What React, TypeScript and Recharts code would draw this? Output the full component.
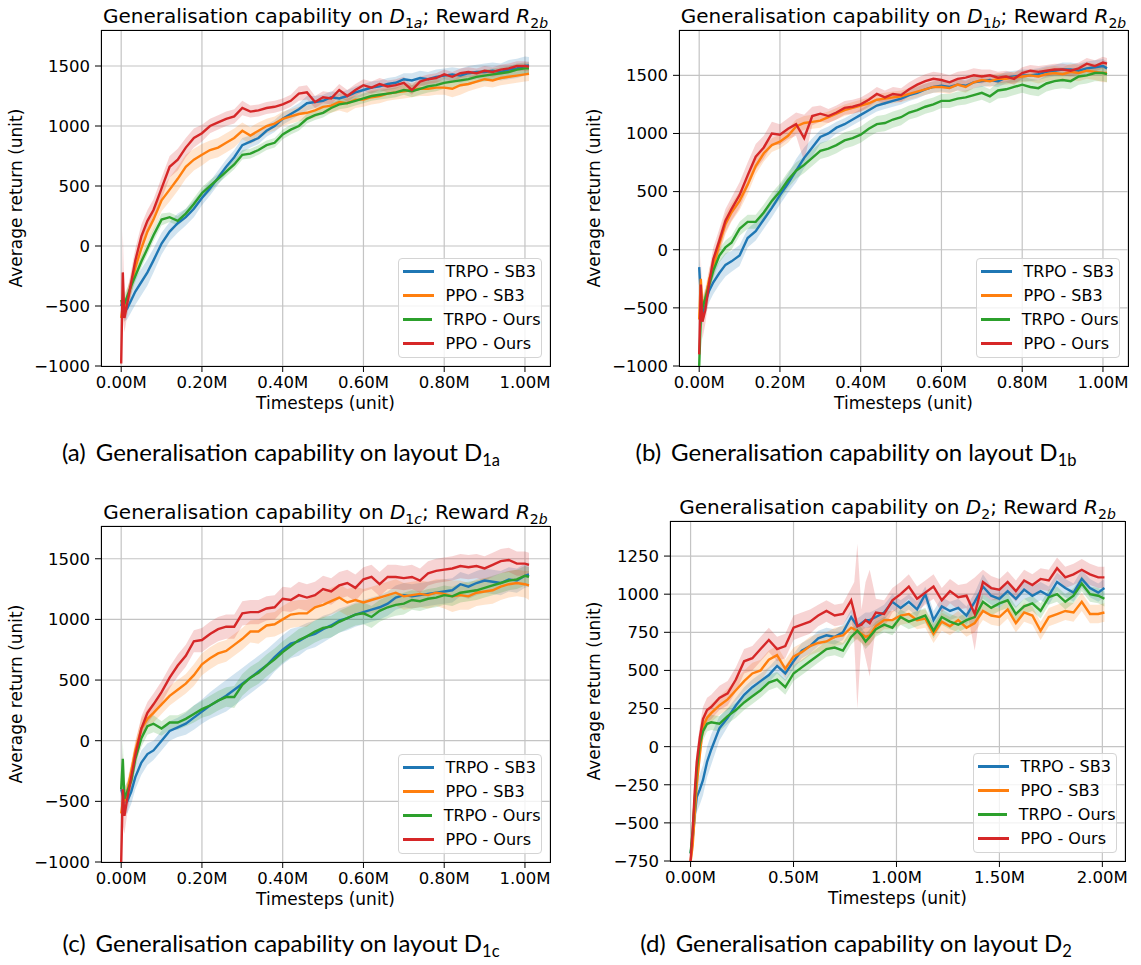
import React from "react";
import { ComposedChart, Line, Area, XAxis, YAxis, CartesianGrid } from "recharts";

const FONT = "'DejaVu Sans', sans-serif";
const CAPTION_FONT = "Lato, 'Open Sans', sans-serif";

const SERIES_NAMES = ["TRPO - SB3", "PPO - SB3", "TRPO - Ours", "PPO - Ours"];
const SERIES_COLORS = ["#1f77b4", "#ff7f0e", "#2ca02c", "#d62728"];

// timesteps (millions) for the 1M-step runs
const STEPS_1M = [
  0, 0.004, 0.008, 0.015, 0.025, 0.035, 0.05, 0.065, 0.08, 0.1,
  0.12, 0.14, 0.16, 0.18, 0.2, 0.22, 0.24, 0.26, 0.28, 0.3,
  0.32, 0.34, 0.36, 0.38, 0.4, 0.42, 0.44, 0.46, 0.48, 0.5,
  0.52, 0.54, 0.56, 0.58, 0.6, 0.62, 0.64, 0.66, 0.68, 0.7,
  0.72, 0.74, 0.76, 0.78, 0.8, 0.82, 0.84, 0.86, 0.88, 0.9,
  0.92, 0.94, 0.96, 0.98, 1.0, 1.01,
];

// timesteps (millions) for the 2M-step run
const STEPS_2M = [
  0, 0.01, 0.02, 0.03, 0.045, 0.06, 0.08, 0.1, 0.14, 0.18,
  0.22, 0.26, 0.3, 0.34, 0.38, 0.42, 0.46, 0.5, 0.54, 0.58,
  0.62, 0.66, 0.7, 0.74, 0.78, 0.795, 0.81, 0.83, 0.85, 0.87,
  0.9, 0.94, 0.98, 1.02, 1.06, 1.1, 1.14, 1.18, 1.22, 1.26,
  1.3, 1.34, 1.38, 1.42, 1.46, 1.5, 1.54, 1.58, 1.62, 1.66,
  1.7, 1.74, 1.78, 1.82, 1.86, 1.9, 1.94, 1.98, 2.01,
];

const X_TICKS_1M = [0, 0.2, 0.4, 0.6, 0.8, 1.0];
const X_TICKS_2M = [0, 0.5, 1.0, 1.5, 2.0];
const Y_TICKS_D1 = [-1000, -500, 0, 500, 1000, 1500];
const Y_TICKS_D2 = [-750, -500, -250, 0, 250, 500, 750, 1000, 1250];

// ---- (a) D1a ----
const A_TRPO_SB3 = [
  -500, -450, -550, -520, -450, -380, -300, -220, -120, 20,
  120, 190, 240, 310, 400, 480, 570, 660, 740, 840,
  870, 900, 960, 1000, 1060, 1100, 1140, 1190, 1200, 1210,
  1240, 1230, 1250, 1280, 1300, 1320, 1330, 1350, 1360, 1390,
  1380, 1400, 1390, 1410, 1420, 1430, 1420, 1440, 1450, 1450,
  1460, 1450, 1470, 1480, 1500, 1505,
];
const A_PPO_SB3 = [
  -600, -500, -550, -450, -320, -180, -20, 120, 220, 380,
  470, 560, 660, 720, 760, 800, 820, 860, 900, 960,
  920, 960, 1000, 1020, 1060, 1080, 1100, 1110, 1130, 1160,
  1170, 1200, 1190, 1220, 1220, 1240, 1250, 1270, 1280, 1290,
  1300, 1310, 1310, 1320, 1320, 1310, 1340, 1350, 1370, 1390,
  1380, 1400, 1410, 1420, 1430, 1435,
];
const A_TRPO_OURS = [
  -450, -500, -480, -420, -330, -250, -130, -20, 90, 220,
  240, 210, 270, 350, 440, 500, 560, 620, 680, 760,
  770, 800, 840, 860, 930, 970, 1000, 1060, 1090, 1110,
  1150, 1180, 1190, 1210, 1230, 1250, 1260, 1270, 1280, 1300,
  1290, 1310, 1330, 1340, 1360, 1370, 1380, 1390, 1410, 1420,
  1430, 1440, 1450, 1470, 1480, 1480,
];
const A_PPO_OURS = [
  -980, -220, -600, -480, -300, -120, 80, 210, 300, 480,
  660, 720, 820, 900, 940, 1000, 1030, 1060, 1080, 1150,
  1120, 1130, 1150, 1160, 1180, 1210, 1270, 1280, 1200, 1240,
  1230, 1300, 1250, 1300, 1340, 1320, 1350, 1330, 1340, 1360,
  1300, 1370, 1390, 1400, 1430, 1410, 1440, 1450, 1440, 1460,
  1450, 1470, 1480, 1500, 1500, 1495,
];
const A_TRPO_SB3_SD = [
  30, 60, 80, 90, 100, 110, 110, 110, 100, 90,
  80, 80, 70, 70, 60, 60, 60, 60, 60, 60,
  50, 50, 50, 50, 50, 50, 50, 60, 50, 50,
  50, 50, 50, 50, 50, 50, 50, 50, 50, 50,
  60, 60, 60, 60, 60, 60, 60, 60, 60, 70,
  70, 70, 80, 80, 80, 70,
];
const A_PPO_SB3_SD = [
  30, 80, 90, 90, 90, 90, 90, 90, 90, 90,
  100, 100, 100, 90, 90, 80, 80, 80, 80, 70,
  70, 70, 60, 60, 60, 60, 60, 60, 60, 60,
  60, 70, 80, 70, 60, 60, 60, 60, 60, 60,
  60, 60, 60, 60, 60, 70, 80, 60, 60, 60,
  60, 60, 60, 60, 60, 60,
];
const A_TRPO_OURS_SD = [
  30, 80, 80, 70, 60, 50, 50, 50, 50, 50,
  40, 40, 40, 50, 50, 50, 40, 40, 40, 40,
  40, 40, 40, 40, 40, 40, 40, 40, 40, 40,
  40, 40, 40, 40, 40, 40, 40, 40, 40, 40,
  50, 50, 50, 50, 50, 50, 50, 50, 50, 50,
  50, 50, 50, 50, 50, 50,
];
const A_PPO_OURS_SD = [
  20, 350, 120, 100, 100, 100, 100, 90, 90, 90,
  90, 90, 80, 80, 70, 60, 60, 60, 60, 60,
  50, 50, 50, 50, 50, 50, 60, 60, 50, 50,
  50, 50, 50, 50, 50, 50, 50, 50, 50, 50,
  40, 40, 40, 40, 40, 40, 40, 40, 40, 40,
  40, 40, 40, 40, 40, 40,
];

// ---- (b) D1b ----
const B_TRPO_SB3 = [
  -150, -400, -550, -450, -350, -280, -200, -130, -100, -50,
  100, 160, 260, 360, 470, 570, 680, 790, 880, 970,
  1000, 1050, 1080, 1120, 1160, 1200, 1240, 1260, 1280, 1300,
  1330, 1350, 1380, 1400, 1410, 1400, 1420, 1410, 1440, 1450,
  1460, 1450, 1480, 1490, 1500, 1500, 1510, 1530, 1540, 1550,
  1550, 1540, 1560, 1570, 1580, 1560,
];
const B_PPO_SB3 = [
  -600, -250, -500, -420, -250, -150, 50, 220, 320, 420,
  560, 720, 830, 900, 930, 980, 1060, 1090, 1100, 1110,
  1140, 1170, 1200, 1220, 1240, 1260, 1290, 1300, 1310, 1320,
  1340, 1360, 1380, 1400, 1400, 1390, 1420, 1400, 1440, 1460,
  1450, 1470, 1470, 1480, 1490, 1500, 1490, 1510, 1520, 1510,
  1530, 1520, 1540, 1530, 1520, 1520,
];
const B_TRPO_OURS = [
  -1000, -600, -500, -420, -300, -180, -50, 20, 60, 180,
  240, 240, 320, 420, 500, 600, 680, 730, 790, 850,
  870, 900, 940, 960, 990, 1040, 1080, 1090, 1120, 1140,
  1180, 1200, 1230, 1250, 1280, 1280, 1300, 1310, 1330, 1350,
  1320, 1370, 1380, 1400, 1420, 1400, 1390, 1430, 1450, 1460,
  1450, 1490, 1500, 1520, 1520, 1510,
];
const B_PPO_OURS = [
  -900, -300, -620, -520, -280, -80, 80, 250, 350, 470,
  640, 800, 880, 1000, 990, 1040, 1080, 960, 1150, 1170,
  1150, 1180, 1220, 1230, 1250, 1290, 1340, 1310, 1340, 1330,
  1380, 1420, 1450, 1470, 1460, 1440, 1470, 1480, 1500, 1490,
  1500, 1480, 1490, 1470, 1520, 1540, 1530, 1540, 1550, 1550,
  1540, 1560, 1600, 1580, 1610, 1600,
];
const B_TRPO_SB3_SD = [
  60, 100, 100, 100, 100, 100, 100, 100, 90, 90,
  80, 80, 80, 80, 80, 80, 100, 90, 80, 60,
  60, 50, 50, 50, 50, 50, 50, 50, 50, 50,
  50, 50, 50, 50, 50, 50, 50, 50, 50, 50,
  50, 50, 50, 50, 50, 50, 50, 50, 50, 60,
  60, 60, 60, 60, 60, 60,
];
const B_PPO_SB3_SD = [
  60, 100, 100, 90, 90, 90, 90, 90, 80, 80,
  80, 70, 70, 60, 60, 60, 60, 60, 60, 60,
  50, 50, 50, 50, 50, 50, 50, 50, 50, 50,
  50, 50, 50, 50, 50, 50, 50, 50, 50, 50,
  50, 50, 50, 50, 50, 50, 60, 60, 60, 60,
  70, 70, 70, 70, 80, 80,
];
const B_TRPO_OURS_SD = [
  40, 100, 80, 70, 60, 60, 60, 60, 60, 60,
  60, 60, 70, 70, 70, 70, 70, 70, 70, 70,
  70, 70, 70, 70, 70, 70, 70, 70, 70, 70,
  60, 60, 60, 60, 60, 60, 60, 60, 60, 60,
  60, 70, 70, 70, 70, 70, 70, 70, 70, 70,
  70, 70, 70, 70, 70, 70,
];
const B_PPO_OURS_SD = [
  80, 250, 150, 120, 110, 100, 100, 100, 100, 110,
  110, 110, 100, 100, 90, 90, 100, 200, 80, 70,
  60, 60, 60, 60, 60, 60, 60, 60, 60, 60,
  60, 60, 60, 60, 60, 60, 60, 60, 60, 60,
  50, 50, 50, 50, 50, 50, 50, 50, 50, 50,
  50, 50, 50, 50, 50, 50,
];

// ---- (c) D1c ----
const C_TRPO_SB3 = [
  -400, -450, -500, -500, -420, -300, -180, -110, -80, 0,
  80, 110, 140, 190, 240, 290, 330, 370, 420, 470,
  520, 570, 620, 690, 750, 800, 820, 860, 880, 920,
  950, 990, 1010, 1040, 1060, 1080, 1100, 1130, 1180, 1200,
  1190, 1200, 1210, 1220, 1230, 1240, 1290, 1270, 1300, 1320,
  1310, 1300, 1330, 1320, 1360, 1370,
];
const C_PPO_SB3 = [
  -600, -500, -500, -420, -250, -80, 100, 180, 230, 300,
  370, 420, 470, 540, 630, 680, 720, 740, 790, 840,
  900, 900, 950, 960, 1000, 1040, 1050, 1050, 1100, 1120,
  1150, 1180, 1140, 1160, 1140, 1160, 1180, 1200, 1220, 1190,
  1200, 1210, 1200, 1220, 1210, 1190, 1200, 1190, 1220, 1230,
  1240, 1270, 1290, 1300, 1290, 1280,
];
const C_TRPO_OURS = [
  -400, -150, -480, -420, -330, -150, 20, 120, 140, 100,
  150, 150, 180, 220, 260, 290, 330, 360, 360, 460,
  520, 560, 620, 670, 730, 780, 830, 860, 900, 930,
  940, 980, 1010, 1040, 1050, 1020, 1070, 1100, 1120, 1130,
  1160, 1150, 1170, 1180, 1200, 1190, 1220, 1230, 1240, 1260,
  1280, 1300, 1320, 1330, 1360, 1350,
];
const C_PPO_OURS = [
  -1000, -400, -620, -480, -300, -120, 100, 230, 300, 400,
  520, 620, 700, 820, 830, 880, 920, 940, 940, 1050,
  1060, 1060, 1090, 1100, 1170, 1160, 1200, 1180, 1200, 1250,
  1230, 1280, 1300, 1260, 1330, 1350, 1290, 1350, 1350, 1340,
  1350, 1320, 1380, 1400, 1410, 1420, 1440, 1430, 1440, 1420,
  1450, 1480, 1490, 1460, 1460, 1450,
];
const C_TRPO_SB3_SD = [
  60, 100, 100, 100, 100, 100, 100, 90, 80, 80,
  80, 80, 90, 100, 100, 110, 120, 130, 130, 130,
  130, 130, 130, 120, 120, 120, 120, 110, 110, 110,
  100, 100, 100, 100, 100, 100, 100, 100, 100, 100,
  100, 100, 100, 100, 100, 100, 100, 100, 100, 100,
  100, 100, 100, 100, 100, 100,
];
const C_PPO_SB3_SD = [
  60, 100, 100, 90, 80, 80, 80, 80, 80, 80,
  80, 80, 80, 90, 90, 90, 90, 90, 90, 90,
  90, 100, 100, 100, 110, 110, 110, 110, 110, 110,
  110, 110, 110, 110, 110, 110, 110, 110, 110, 110,
  110, 110, 110, 110, 120, 130, 120, 110, 110, 110,
  110, 110, 110, 110, 110, 120,
];
const C_TRPO_OURS_SD = [
  60, 150, 100, 80, 80, 70, 70, 70, 70, 60,
  60, 60, 60, 70, 70, 80, 80, 80, 90, 90,
  90, 90, 90, 90, 90, 90, 90, 90, 90, 90,
  90, 90, 90, 90, 90, 90, 90, 90, 90, 90,
  80, 80, 80, 80, 80, 80, 80, 80, 80, 80,
  80, 80, 80, 80, 80, 80,
];
const C_PPO_OURS_SD = [
  30, 300, 150, 120, 100, 100, 100, 90, 90, 90,
  90, 90, 90, 90, 100, 100, 100, 100, 100, 100,
  100, 100, 100, 100, 100, 100, 110, 110, 110, 110,
  110, 110, 110, 110, 100, 100, 100, 100, 100, 100,
  100, 100, 100, 100, 100, 100, 100, 100, 100, 100,
  100, 100, 100, 100, 100, 100,
];

// ---- (d) D2 ----
const D_TRPO_SB3 = [
  -700, -600, -450, -330, -280, -220, -100, -20, 120, 190,
  270, 340, 390, 430, 470, 530, 480, 560, 630, 660,
  710, 730, 720, 750, 850, 820, 790, 810, 830, 830,
  850, 880, 950, 910, 950, 900, 1000, 830, 920, 890,
  910, 860, 950, 1050, 990, 970, 1020, 970, 1030, 990,
  1020, 990, 1080, 1040, 1010, 1100, 1040, 1010, 1040,
];
const D_PPO_SB3 = [
  -750, -650, -450, -250, -50, 130, 190, 220, 270, 310,
  370, 430, 480, 500, 570, 600, 510, 590, 620, 660,
  680, 690, 720, 730, 780, 770, 760, 740, 720, 730,
  790, 830, 830, 860, 870, 830, 840, 740, 820, 790,
  830, 780, 810, 890, 860, 850, 900, 810, 880, 860,
  760, 850, 870, 890, 880, 950, 870, 870, 880,
];
const D_TRPO_OURS = [
  -700, -550, -350, -150, 20, 100, 150, 160, 150, 200,
  240, 290, 330, 370, 420, 440, 390, 480, 520, 560,
  600, 640, 650, 630, 720, 740, 760, 730, 690, 720,
  770, 800, 780, 850, 820, 840, 860, 760, 850, 820,
  800, 830, 850, 950, 910, 940, 960, 870, 920, 940,
  890, 980, 1000, 950, 990, 1070, 1000, 990, 970,
];
const D_PPO_OURS = [
  -750, -550, -300, -100, 60, 180, 240, 260, 320, 350,
  440, 560, 580, 640, 700, 640, 660, 780, 800, 820,
  860, 890, 860, 870, 960, 880, 790, 800, 830, 810,
  880, 870, 960, 1000, 1050, 970, 1010, 1050, 960, 1020,
  980, 990, 870, 1080, 1040, 1030, 1080, 1020, 1090, 1060,
  1100, 1090, 1170, 1110, 1130, 1160, 1130, 1110, 1110,
];
const D_TRPO_SB3_SD = [
  40, 80, 100, 100, 100, 100, 100, 100, 80, 60,
  50, 50, 50, 50, 50, 50, 50, 50, 50, 50,
  50, 50, 50, 50, 50, 50, 50, 50, 50, 50,
  50, 50, 50, 50, 50, 50, 50, 60, 60, 60,
  60, 60, 60, 80, 60, 60, 60, 60, 60, 60,
  60, 60, 60, 60, 60, 60, 60, 60, 60,
];
const D_PPO_SB3_SD = [
  40, 80, 80, 80, 80, 70, 60, 60, 60, 70,
  70, 70, 70, 70, 60, 60, 60, 60, 60, 60,
  60, 60, 60, 60, 60, 60, 60, 60, 60, 60,
  60, 60, 60, 60, 60, 60, 60, 60, 60, 60,
  60, 60, 60, 60, 60, 60, 60, 60, 60, 60,
  60, 60, 60, 60, 60, 60, 60, 60, 60,
];
const D_TRPO_OURS_SD = [
  40, 80, 80, 80, 70, 60, 50, 50, 50, 50,
  50, 50, 50, 50, 50, 50, 50, 50, 50, 50,
  50, 50, 50, 50, 50, 50, 50, 50, 50, 50,
  50, 50, 50, 50, 50, 50, 50, 50, 50, 50,
  50, 50, 50, 50, 50, 50, 50, 50, 50, 50,
  50, 50, 50, 50, 50, 50, 50, 50, 50,
];
const D_PPO_OURS_SD = [
  40, 80, 80, 80, 80, 80, 80, 80, 80, 80,
  80, 80, 80, 80, 80, 80, 80, 80, 80, 80,
  70, 70, 70, 70, 80, 200, 540, 100, 250, 350,
  90, 90, 80, 80, 80, 80, 80, 80, 80, 80,
  80, 80, 240, 80, 80, 70, 70, 70, 70, 70,
  70, 70, 70, 70, 70, 70, 70, 70, 70,
];

const Y_AXIS_W = 60;
const X_AXIS_H = 30;
const TICK_FONT = 16.5;
const LABEL_FONT = 17;
const LEGEND_FONT = 16;
const TITLE_FONT = 20;

type Rect = { x: number; y: number; w: number; h: number };

function buildRows(steps: number[], means: number[][], spreads: number[][]) {
  return steps.map((x, i) => {
    const row: Record<string, any> = { x };
    means.forEach((m, k) => {
      row["m" + k] = m[i];
      row["b" + k] = [m[i] - spreads[k][i], m[i] + spreads[k][i]];
    });
    return row;
  });
}

const minus = (v: number) => String(v).replace("-", "\u2212");

function Sub({ children }: { children: React.ReactNode }) {
  return (
    <span style={{ fontSize: 14, position: "relative", top: 5 }}>{children}</span>
  );
}

function Title({ d, dSub }: { d: string; dSub: React.ReactNode }) {
  return (
    <>
      Generalisation capability on <i>{d}</i>
      <Sub>{dSub}</Sub>; Reward <i>R</i>
      <Sub>
        2<i>b</i>
      </Sub>
    </>
  );
}

type PanelProps = {
  left: number;
  top: number;
  width: number;
  height: number;
  plot: Rect;
  yLabelX: number;
  xDomain: [number, number];
  yDomain: [number, number];
  xTicks: number[];
  yTicks: number[];
  rows: Record<string, any>[];
  title: React.ReactNode;
};

function Panel(p: PanelProps) {
  const margin = {
    left: p.plot.x - Y_AXIS_W,
    top: p.plot.y,
    right: p.width - p.plot.x - p.plot.w,
    bottom: p.height - p.plot.y - p.plot.h - X_AXIS_H,
  };
  const tickStyle = { fill: "#000", fontSize: TICK_FONT, fontFamily: FONT };
  const legendW = 144;
  const legendH = 100;
  return (
    <div
      style={{
        position: "absolute",
        left: p.left,
        top: p.top,
        width: p.width,
        height: p.height,
        fontFamily: FONT,
        color: "#000",
      }}
    >
      <ComposedChart width={p.width} height={p.height} data={p.rows} margin={margin}>
        <CartesianGrid stroke="#c4c4c4" strokeWidth={1.2} />
        <XAxis
          dataKey="x"
          type="number"
          domain={p.xDomain}
          ticks={p.xTicks}
          interval={0}
          allowDataOverflow
          height={X_AXIS_H}
          axisLine={false}
          tickLine={{ stroke: "#000" }}
          tickSize={6}
          tickMargin={4}
          tick={tickStyle}
          tickFormatter={(v: number) => v.toFixed(2) + "M"}
        />
        <YAxis
          type="number"
          domain={p.yDomain}
          ticks={p.yTicks}
          interval={0}
          allowDataOverflow
          width={Y_AXIS_W}
          axisLine={false}
          tickLine={{ stroke: "#000" }}
          tickSize={6}
          tickMargin={5}
          tick={tickStyle}
          tickFormatter={minus}
        />
        {SERIES_COLORS.map((c, k) => (
          <Area
            key={"band" + k}
            dataKey={"b" + k}
            type="linear"
            stroke="none"
            fill={c}
            fillOpacity={0.2}
            dot={false}
            activeDot={false}
            isAnimationActive={false}
          />
        ))}
        {SERIES_COLORS.map((c, k) => (
          <Line
            key={"line" + k}
            dataKey={"m" + k}
            type="linear"
            stroke={c}
            strokeWidth={2.4}
            dot={false}
            activeDot={false}
            isAnimationActive={false}
          />
        ))}
      </ComposedChart>

      {/* plot frame */}
      <div
        style={{
          position: "absolute",
          left: p.plot.x - 0.5,
          top: p.plot.y - 0.5,
          width: p.plot.w + 1,
          height: p.plot.h + 1,
          border: "1.2px solid #000",
          boxSizing: "border-box",
          pointerEvents: "none",
        }}
      />

      {/* title */}
      <div
        style={{
          position: "absolute",
          left: p.plot.x - 40,
          width: p.plot.w + 80,
          top: p.plot.y - 24,
          lineHeight: "20px",
          fontSize: TITLE_FONT,
          textAlign: "center",
          whiteSpace: "nowrap",
        }}
      >
        {p.title}
      </div>

      {/* x label */}
      <div
        style={{
          position: "absolute",
          left: p.plot.x,
          width: p.plot.w,
          top: p.plot.y + p.plot.h + 28.5,
          lineHeight: "17px",
          fontSize: LABEL_FONT,
          textAlign: "center",
        }}
      >
        Timesteps (unit)
      </div>

      {/* y label */}
      <div
        style={{
          position: "absolute",
          left: p.yLabelX - p.plot.h / 2,
          top: p.plot.y + p.plot.h / 2 - 10,
          width: p.plot.h,
          height: 20,
          lineHeight: "20px",
          fontSize: LABEL_FONT,
          textAlign: "center",
          transform: "rotate(-90deg)",
          whiteSpace: "nowrap",
        }}
      >
        Average return (unit)
      </div>

      {/* legend */}
      <div
        style={{
          position: "absolute",
          left: p.plot.x + p.plot.w - 8.5 - legendW,
          top: p.plot.y + p.plot.h - 8.5 - legendH,
          width: legendW,
          height: legendH,
          boxSizing: "border-box",
          border: "1px solid #d4d4d4",
          borderRadius: 4,
          background: "rgba(255,255,255,0.8)",
          paddingTop: 1,
        }}
      >
        {SERIES_NAMES.map((name, k) => (
          <div
            key={name}
            style={{ display: "flex", alignItems: "center", height: 24, fontSize: LEGEND_FONT }}
          >
            <div
              style={{
                marginLeft: 4.5,
                width: 31,
                height: 2.4,
                background: SERIES_COLORS[k],
              }}
            />
            <span style={{ marginLeft: 11.5, whiteSpace: "nowrap" }}>{name}</span>
          </div>
        ))}
      </div>
    </div>
  );
}

function Caption({
  center,
  top,
  label,
  sub,
}: {
  center: number;
  top: number;
  label: string;
  sub: string;
}) {
  return (
    <div
      style={{
        position: "absolute",
        left: center - 300,
        width: 600,
        top,
        textAlign: "center",
        fontFamily: CAPTION_FONT,
        fontSize: 24,
        lineHeight: "29px",
        whiteSpace: "nowrap",
        color: "#000",
      }}
    >
      <span style={{ marginRight: 10 }}>{label}</span>Generalisation capability on layout D
      <span style={{ fontSize: 16.5, position: "relative", top: 5 }}>{sub}</span>
    </div>
  );
}

export default function App() {
  const rowsA = buildRows(
    STEPS_1M,
    [A_TRPO_SB3, A_PPO_SB3, A_TRPO_OURS, A_PPO_OURS],
    [A_TRPO_SB3_SD, A_PPO_SB3_SD, A_TRPO_OURS_SD, A_PPO_OURS_SD]
  );
  const rowsB = buildRows(
    STEPS_1M,
    [B_TRPO_SB3, B_PPO_SB3, B_TRPO_OURS, B_PPO_OURS],
    [B_TRPO_SB3_SD, B_PPO_SB3_SD, B_TRPO_OURS_SD, B_PPO_OURS_SD]
  );
  const rowsC = buildRows(
    STEPS_1M,
    [C_TRPO_SB3, C_PPO_SB3, C_TRPO_OURS, C_PPO_OURS],
    [C_TRPO_SB3_SD, C_PPO_SB3_SD, C_TRPO_OURS_SD, C_PPO_OURS_SD]
  );
  const rowsD = buildRows(
    STEPS_2M,
    [D_TRPO_SB3, D_PPO_SB3, D_TRPO_OURS, D_PPO_OURS],
    [D_TRPO_SB3_SD, D_PPO_SB3_SD, D_TRPO_OURS_SD, D_PPO_OURS_SD]
  );

  return (
    <div
      style={{
        position: "absolute",
        left: 0,
        top: 0,
        width: 1141,
        height: 965,
        background: "#fff",
        overflow: "hidden",
      }}
    >
      <Panel
        left={0}
        top={0}
        width={570}
        height={420}
        plot={{ x: 101, y: 30, w: 449, h: 336 }}
        yLabelX={16.3}
        xDomain={[-0.05, 1.062]}
        yDomain={[-1000, 1800]}
        xTicks={X_TICKS_1M}
        yTicks={Y_TICKS_D1}
        rows={rowsA}
        title={<Title d="D" dSub={<>1<i>a</i></>} />}
      />
      <Panel
        left={570}
        top={0}
        width={571}
        height={420}
        plot={{ x: 109, y: 30, w: 449, h: 336 }}
        yLabelX={24.3}
        xDomain={[-0.05, 1.062]}
        yDomain={[-1000, 1890]}
        xTicks={X_TICKS_1M}
        yTicks={Y_TICKS_D1}
        rows={rowsB}
        title={<Title d="D" dSub={<>1<i>b</i></>} />}
      />
      <Panel
        left={0}
        top={490}
        width={570}
        height={420}
        plot={{ x: 101, y: 36, w: 449, h: 336 }}
        yLabelX={16}
        xDomain={[-0.05, 1.062]}
        yDomain={[-1000, 1770]}
        xTicks={X_TICKS_1M}
        yTicks={Y_TICKS_D1}
        rows={rowsC}
        title={<Title d="D" dSub={<>1<i>c</i></>} />}
      />
      <Panel
        left={570}
        top={490}
        width={571}
        height={420}
        plot={{ x: 100, y: 31, w: 455, h: 340 }}
        yLabelX={24.3}
        xDomain={[-0.1, 2.11]}
        yDomain={[-750, 1480]}
        xTicks={X_TICKS_2M}
        yTicks={Y_TICKS_D2}
        rows={rowsD}
        title={<Title d="D" dSub="2" />}
      />

      <Caption center={281} top={437} label="(a)" sub="1a" />
      <Caption center={856} top={437} label="(b)" sub="1b" />
      <Caption center={281} top={928} label="(c)" sub="1c" />
      <Caption center={856} top={928} label="(d)" sub="2" />
    </div>
  );
}
